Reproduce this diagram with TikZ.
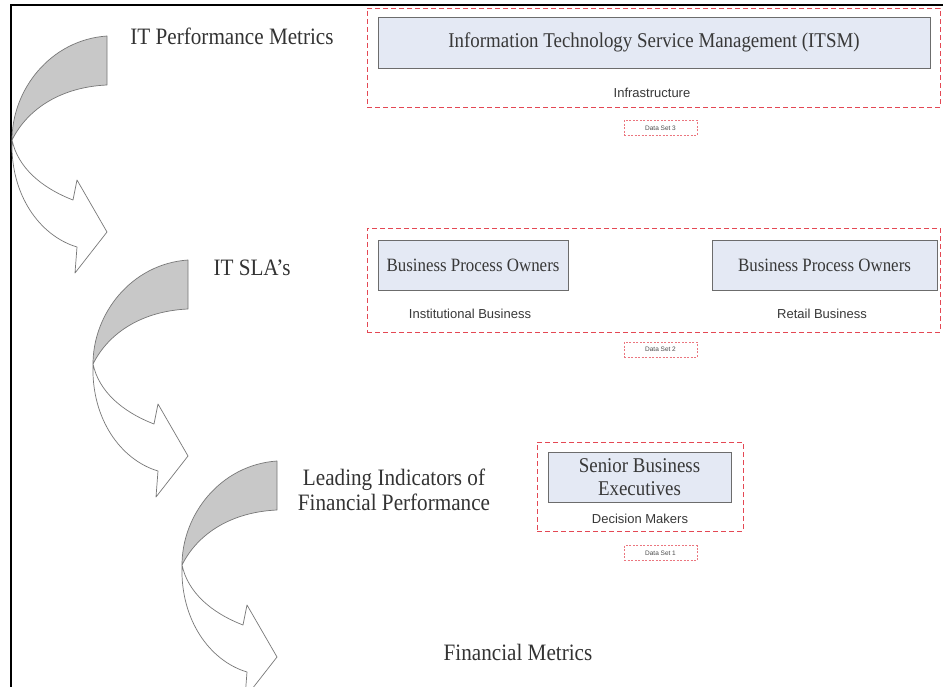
\documentclass[tikz,border=0pt]{standalone}
\usepackage{fontspec}
\setmainfont{Liberation Serif}
\newfontfamily\arialf{Liberation Sans}
\definecolor{redd}{RGB}{228,72,84}
\definecolor{boxfill}{RGB}{228,233,244}
\definecolor{bandgray}{RGB}{200,200,200}
\definecolor{edgegray}{RGB}{120,120,120}
\newcommand{\sq}[1]{\scalebox{0.9}[1]{#1}}
\tikzset{
  lbl/.style={font=\fontsize{23.5}{26}\selectfont, text=black!80, inner sep=0pt},
  outerbox/.style={draw=redd, dash pattern=on 5pt off 3pt, line width=0.9pt, inner sep=0pt},
  bluebox/.style={draw=gray!85!black, fill=boxfill, line width=0.8pt, inner sep=0pt},
  boxtxt/.style={font=\fontsize{21}{23}\selectfont, text=black!78, align=center},
  subtxt/.style={font=\arialf\fontsize{13}{14}\selectfont, text=black!78, inner sep=0pt},
  dsbox/.style={draw=redd!75, dash pattern=on 2pt off 1.5pt, line width=0.6pt,
    minimum width=73pt, minimum height=15pt, inner sep=0pt,
    font=\arialf\fontsize{6.5}{7}\selectfont, text=black!70},
  band/.style={fill=bandgray, draw=edgegray, line width=0.7pt, line join=round},
  front/.style={fill=white, draw=edgegray, line width=0.7pt, line join=round},
}
\newcommand{\curvearrow}[2]{%
  \begin{scope}[shift={(#1,#2)}]
    \draw[band] (107,36) .. controls (50,40) and (12,90) .. (12,140)
      .. controls (28,108) and (62,87) .. (107,85) -- cycle;
    \draw[front] (12,140) .. controls (10,195) and (40,236) .. (77,247)
      -- (75,273) -- (107,232) -- (77,180) -- (73,200)
      .. controls (42,188) and (18,168) .. (12,140) -- cycle;
  \end{scope}}
\begin{document}
\begin{tikzpicture}[x=1pt,y=-1pt]
  \useasboundingbox (0,0) rectangle (943,687);
  \fill[white] (0,0) rectangle (943,687);
  % frame
  \draw[line width=1.4pt] (11,687) -- (11,5) -- (943,5);

  % curved arrows
  \curvearrow{0}{0}
  \curvearrow{81}{224}
  \curvearrow{170}{425}

  % left labels
  \node[lbl] (l1) at (232,36) {\sq{IT Performance Metrics}};
  \node[lbl] (l2) at (252,268) {\sq{IT SLA’s}};
  \node[lbl, align=center, font=\fontsize{23.5}{25}\selectfont] (l3) at (394,490)
    {\sq{Leading Indicators of}\\\sq{Financial Performance}};
  \node[lbl] (l4) at (518,652) {\sq{Financial Metrics}};

  % Data set 3
  \node[outerbox, minimum width=573pt, minimum height=99pt] (g3) at (653.5,57.5) {};
  \node[bluebox, boxtxt, minimum width=552pt, minimum height=51pt] (itsm) at (654,42.5)
    {\sq{Information Technology Service Management (ITSM)}};
  \node[subtxt] (infra) at (652,93) {Infrastructure};
  \node[dsbox] (ds3) at (660.5,128) {Data Set 3};

  % Data set 2
  \node[outerbox, minimum width=573pt, minimum height=104pt] (g2) at (653.5,280) {};
  \node[bluebox, boxtxt, font=\fontsize{18.8}{21}\selectfont, minimum width=190pt, minimum height=50pt] (bpo1) at (473,265)
    {\sq{Business Process Owners}};
  \node[bluebox, boxtxt, font=\fontsize{18.8}{21}\selectfont, minimum width=225pt, minimum height=50pt] (bpo2) at (824.5,265)
    {\sq{Business Process Owners}};
  \node[subtxt] (inst) at (470,314) {Institutional Business};
  \node[subtxt] (retail) at (822,314) {Retail Business};
  \node[dsbox] (ds2) at (660.5,349.5) {Data Set 2};

  % Data set 1
  \node[outerbox, minimum width=206pt, minimum height=89pt] (g1) at (640,486.5) {};
  \node[bluebox, boxtxt, font=\fontsize{21}{23.5}\selectfont, minimum width=183pt, minimum height=50pt] (sbe) at (639.5,477)
    {\sq{Senior Business}\\\sq{Executives}};
  \node[subtxt] (dm) at (640,519) {Decision Makers};
  \node[dsbox] (ds1) at (660.5,553) {Data Set 1};
\end{tikzpicture}
\end{document}
